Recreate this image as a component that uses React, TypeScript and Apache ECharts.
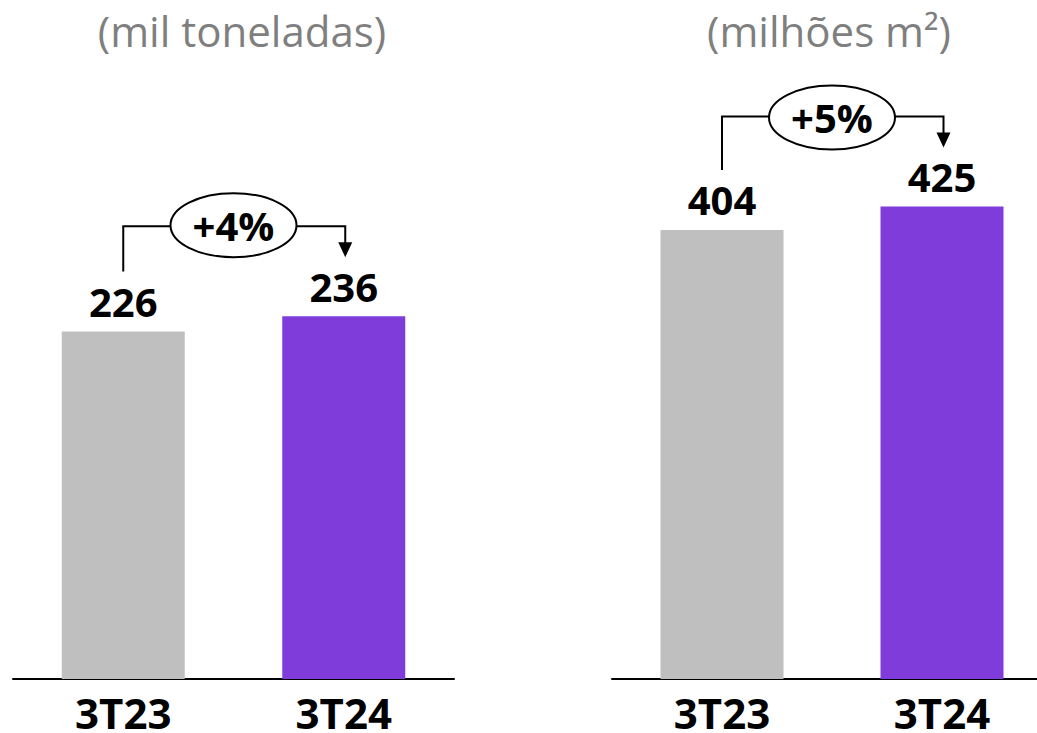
import React, { useEffect, useRef } from "react";
import * as echarts from "echarts";

const categories = ["3T23", "3T24"];
const leftValues = [226, 236];
const rightValues = [404, 425];
const panelTitles = ["(mil toneladas)", "(milhões m²)"];
const changeLabels = ["+4%", "+5%"];
const barColors = ["#BFBFBF", "#7F3CDB"];

const FONT = "'Open Sans', 'Noto Sans', sans-serif";

export default function App() {
  const ref = useRef<HTMLDivElement>(null);

  useEffect(() => {
    if (!ref.current) return;
    const chart = echarts.init(ref.current, undefined, { renderer: "svg" });

    const makeXAxis = (gridIndex: number) => ({
      type: "category",
      gridIndex,
      data: categories,
      axisLine: { show: true, lineStyle: { color: "#000", width: 2 } },
      axisTick: { show: false },
      axisLabel: {
        color: "#000",
        fontSize: 42,
        fontWeight: "bold",
        fontFamily: FONT,
        lineHeight: 36,
        margin: 15,
      },
      splitLine: { show: false },
    });

    const makeYAxis = (gridIndex: number, max: number) => ({
      type: "value",
      gridIndex,
      min: 0,
      max,
      show: false,
      splitLine: { show: false },
    });

    const makeSeries = (idx: number, values: number[]) => ({
      type: "bar",
      xAxisIndex: idx,
      yAxisIndex: idx,
      barWidth: 123,
      data: values.map((v, i) => ({ value: v, itemStyle: { color: barColors[i] } })),
      label: {
        show: true,
        position: "top",
        distance: 10,
        color: "#000",
        fontSize: 40,
        fontWeight: "bold",
        fontFamily: FONT,
      },
    });

    chart.setOption({
      animation: false,
      grid: [
        { left: 13, width: 441, top: 64, height: 615 },
        { left: 612, width: 440, top: 12, height: 667 },
      ],
      xAxis: [makeXAxis(0), makeXAxis(1)],
      yAxis: [makeYAxis(0, 400), makeYAxis(1, 600)],
      series: [makeSeries(0, leftValues), makeSeries(1, rightValues)],
    });

    const graphics: any[] = [];
    const titleX = [242, 829];
    panelTitles.forEach((t, i) => {
      graphics.push({
        type: "text",
        x: titleX[i],
        y: 30,
        style: {
          text: t,
          fill: "#7F7F7F",
          fontSize: 42,
          fontFamily: FONT,
          align: "center",
          verticalAlign: "middle",
          textAlign: "center",
          textVerticalAlign: "middle",
        },
      });
    });

    const panels = [leftValues, rightValues];
    panels.forEach((vals, s) => {
      const p0 = chart.convertToPixel({ seriesIndex: s }, [0, vals[0]]) as number[];
      const p1 = chart.convertToPixel({ seriesIndex: s }, [1, vals[1]]) as number[];
      const x0 = p0[0];
      const x1 = p1[0] + 1.5;
      const startY = p0[1] - 60;
      const hy = p1[1] - 90;
      const tipY = p1[1] - 59;
      const cx = (p0[0] + p1[0]) / 2;
      const cy = hy - 1 + s * 2;
      const rx = 63;
      const ry = 32;
      const ls = { stroke: "#000", lineWidth: 2, fill: null };
      graphics.push({
        type: "polyline",
        shape: { points: [[x0, startY], [x0, hy], [cx - rx, hy]] },
        style: ls,
      });
      graphics.push({
        type: "polyline",
        shape: { points: [[cx + rx, hy], [x1, hy], [x1, tipY - 14]] },
        style: ls,
      });
      graphics.push({
        type: "polygon",
        shape: { points: [[x1 - 7, tipY - 15], [x1 + 7, tipY - 15], [x1, tipY]] },
        style: { fill: "#000" },
      });
      graphics.push({
        type: "ellipse",
        shape: { cx, cy, rx, ry },
        style: { fill: "#fff", stroke: "#000", lineWidth: 2 },
      });
      graphics.push({
        type: "text",
        x: cx,
        y: cy,
        style: {
          text: changeLabels[s],
          fill: "#000",
          fontSize: 40,
          fontWeight: "bold",
          fontFamily: FONT,
          align: "center",
          verticalAlign: "middle",
          textAlign: "center",
          textVerticalAlign: "middle",
        },
      });
    });

    chart.setOption({ graphic: { elements: graphics } });

    return () => {
      chart.dispose();
    };
  }, []);

  return (
    <div
      ref={ref}
      style={{ position: "fixed", left: 0, top: 0, width: 1060, height: 733, background: "#fff" }}
    />
  );
}
